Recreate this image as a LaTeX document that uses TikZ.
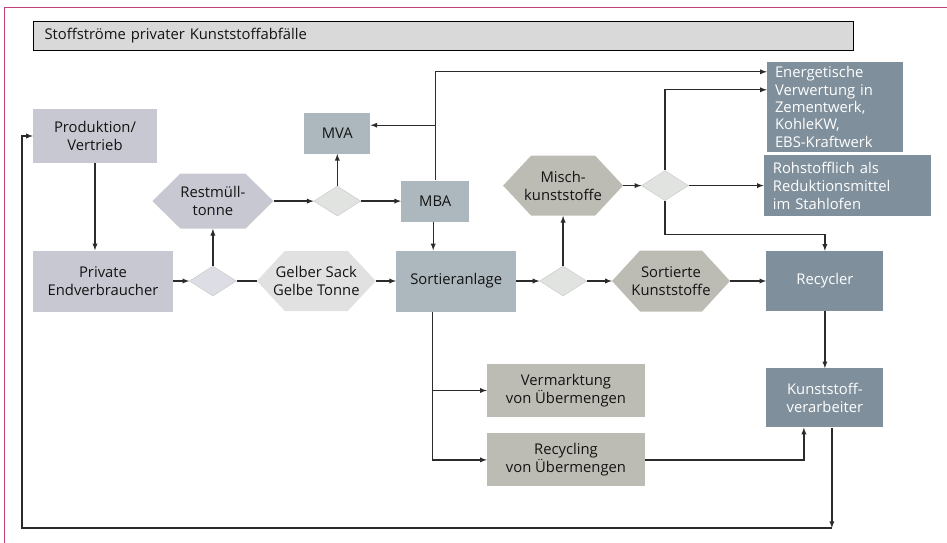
\documentclass[tikz,border=0pt]{standalone}
\usepackage{fontspec}
\setmainfont{Open Sans}
\usepackage{xcolor}
\usetikzlibrary{shapes,arrows,positioning,shapes.geometric}

\definecolor{lavgray}{HTML}{C8C8D2}
\definecolor{lavlight}{HTML}{DCDDE5}
\definecolor{palegray}{HTML}{E1E1E1}
\definecolor{diafill}{HTML}{E1E3E1}
\definecolor{bluegray}{HTML}{ADB8BE}
\definecolor{slate}{HTML}{7F8F9B}
\definecolor{warmgray}{HTML}{BDBCB4}
\definecolor{titlegray}{HTML}{D9D9D9}
\definecolor{framepink}{HTML}{C0407A}
\definecolor{linegray}{HTML}{2B2B2B}

\begin{document}
\begin{tikzpicture}[
    x=1pt, y=-1pt,
    font=\fontsize{14.8}{18}\selectfont,
    box/.style={rectangle, inner sep=2pt, align=center, text=black!92},
    consumer/.style={box, fill=lavgray},
    plant/.style={box, fill=bluegray},
    outlet/.style={box, fill=slate, text=white},
    fraction/.style={box, fill=warmgray},
    hexa/.style={box, path picture={
        \fill[#1] (path picture bounding box.west)
          -- ([xshift=28pt]path picture bounding box.north west)
          -- ([xshift=-28pt]path picture bounding box.north east)
          -- (path picture bounding box.east)
          -- ([xshift=-28pt]path picture bounding box.south east)
          -- ([xshift=28pt]path picture bounding box.south west) -- cycle;}},
    choice/.style={diamond, draw=gray!45, fill=diafill, inner sep=0pt, minimum width=47pt, minimum height=30pt},
    arrow/.style={->, >=latex, line width=1.3pt, draw=linegray},
    link/.style={line width=1.3pt, draw=linegray}
]
\useasboundingbox (0,0) rectangle (947,543);

% Frame and title
\draw[framepink, line width=0.9pt] (4,543) -- (4,7) -- (947,7);
\node[draw=black, line width=1pt, fill=titlegray, anchor=north west, minimum height=29pt, text width=798pt, inner xsep=11pt, align=left, text=black!92] (title) at (33,21) {Stoffströme privater Kunststoffabfälle};

% Sources
\node[consumer, minimum width=124pt, minimum height=54pt] (prod) at (95,136) {Produktion/\\Vertrieb};
\node[consumer, minimum width=140pt, minimum height=61pt] (priv) at (103,281) {Private\\Endverbraucher};

% Middle row
\node[choice, fill=lavlight, right=16pt of priv] (d1) {};
\node[hexa=palegray, minimum width=119pt, minimum height=60pt, right=20pt of d1] (gelb) {Gelber Sack\\Gelbe Tonne};
\node[plant, minimum width=120pt, minimum height=61pt, right=20pt of gelb] (sort) {Sortieranlage};
\node[choice, right=23pt of sort] (d4) {};
\node[hexa=warmgray, minimum width=118pt, minimum height=61pt, right=25pt of d4] (sorte) {Sortierte\\Kunststoffe};
\node[outlet, minimum width=117pt, minimum height=60pt, right=36pt of sorte] (recy) {Recycler};
\node[outlet, minimum width=117pt, minimum height=59pt, below=57pt of recy] (kver) {Kunststoff-\\verarbeiter};

% Residual waste
\node[hexa=lavgray, minimum width=121pt, minimum height=55pt, above=37pt of d1] (rest) {Restmüll-\\tonne};
\node[choice, right=40pt of rest] (d2) {};
\node[plant, minimum width=68pt, minimum height=41pt, right=40pt of d2] (mba) {MBA};
\node[plant, minimum width=66pt, minimum height=41pt, above=32pt of d2] (mva) {MVA};

% Mixed plastics
\node[hexa=warmgray, minimum width=120pt, minimum height=60pt, above=50pt of d4] (misch) {Misch-\\kunststoffe};
\node[choice, right=18pt of misch] (d3) {};
\node[outlet, minimum width=167pt, minimum height=61pt, text width=149pt, align=left, right=75pt of d3] (roh) {Rohstofflich als\\Reduktionsmittel\\im Stahlofen};
\node[outlet, minimum width=136pt, minimum height=90pt, text width=120pt, align=left, font=\fontsize{14.8}{17.3}\selectfont] (ener) at (835,107) {Energetische\\Verwertung in\\Zementwerk,\\KohleKW,\\EBS-Kraftwerk};

% Surplus
\node[fraction, minimum width=158pt, minimum height=53pt] (verm) at (566,390.5) {Vermarktung\\von Übermengen};
\node[fraction, minimum width=158pt, minimum height=53pt, below=16pt of verm] (recyc) {Recycling\\von Übermengen};

% Arrows
\draw[arrow] (prod.south) -- (prod.south |- priv.north);
\draw[arrow] (priv) -- (d1);
\draw[arrow] (d1) -- (rest);
\draw[link] (d1) -- (gelb);
\draw[arrow] (gelb) -- (sort);
\draw[arrow] (rest) -- (d2);
\draw[arrow] (d2) -- (mva);
\draw[arrow] (d2) -- (mba);
\draw[arrow] ([xshift=-2pt]mba.south) -- ([xshift=-2pt]mba.south |- sort.north);
\draw[arrow] (mba.north) |- ([yshift=-10pt]ener.north west);
\draw[arrow] ([yshift=8pt]mva.east -| mba.north) -- ([yshift=8pt]mva.east);

\draw[arrow] (sort) -- (d4);
\draw[arrow] (d4) -- (misch);
\draw[arrow] (d4) -- (sorte);
\draw[arrow] (sorte) -- (recy);
\draw[arrow] (misch) -- (d3);
\draw[arrow] (d3) -- (roh);
\draw[arrow] (d3.north) |- ([yshift=-28pt]ener.north west);
\draw[arrow] (d3.south) -- ++(0,34) -| (recy.north);
\draw[arrow] (recy) -- (kver);

\draw[arrow] ([xshift=-24pt]sort.south) |- (verm.west);
\draw[arrow] ([xshift=-24pt]sort.south) |- (recyc.west);
\draw[arrow] (recyc.east) -| ([xshift=-21pt]kver.south);

% Return loop
\coordinate (ret) at ([xshift=7pt]kver.south |- 0,528);
\coordinate (loop) at (22,528);
\draw[arrow] ([xshift=7pt]kver.south) -- (ret);
\draw[arrow] (ret) -- (loop) |- (prod.west);

\end{tikzpicture}
\end{document}
